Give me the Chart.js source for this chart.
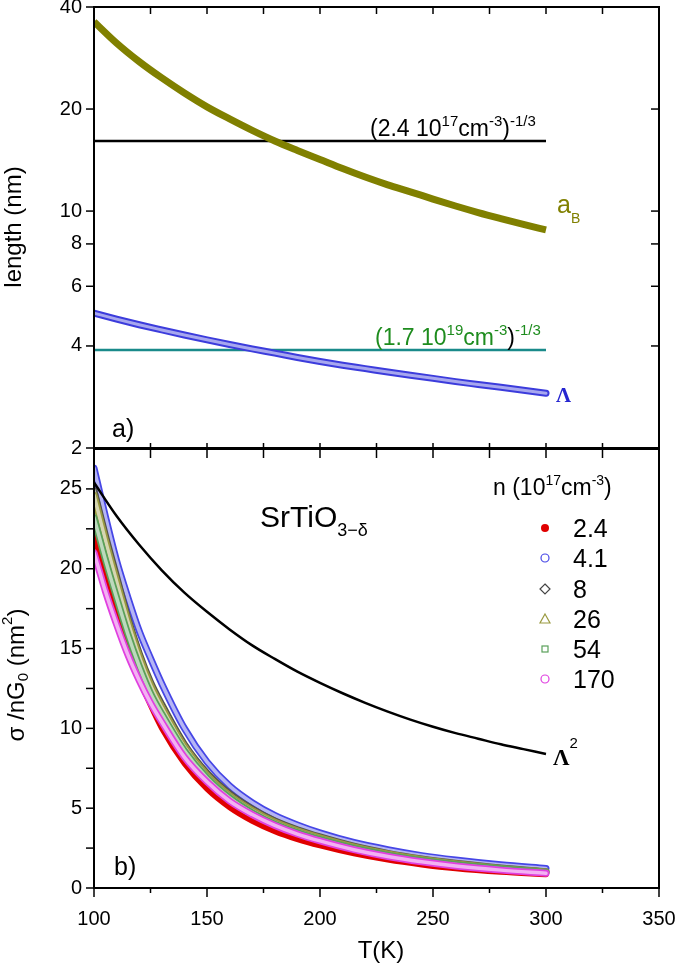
<!DOCTYPE html>
<html>
<head>
<meta charset="utf-8">
<script src="https://cdn.jsdelivr.net/npm/chart.js@4.4.1/dist/chart.umd.min.js"></script>
<style>
  html, body { margin: 0; padding: 0; background: #fff; }
  #wrap { position: relative; width: 675px; height: 964px; }
  #bot { position: absolute; left: 0; top: 440px; }
  #top { position: absolute; left: 0; top: 0; }
</style>
</head>
<body>
<div id="wrap">
  <canvas id="bot" width="675" height="524"></canvas>
  <canvas id="top" width="675" height="460"></canvas>
</div>
<script>
// ---- data ----
// panel a) lengths vs T
const temps = [100, 110, 120, 130, 140, 150, 160, 170, 180, 190, 200, 210, 220, 230, 240, 250, 260, 270, 280, 290, 300];
const bohrRadius = [36.2, 31.3, 27.6, 24.7, 22.3, 20.3, 18.7, 17.3, 16.1, 15.1, 14.2, 13.35, 12.6, 11.95, 11.4, 10.85, 10.35, 9.9, 9.5, 9.13, 8.8];
const lambda = [5.00, 4.80, 4.62, 4.46, 4.31, 4.17, 4.04, 3.92, 3.81, 3.70, 3.60, 3.51, 3.43, 3.35, 3.28, 3.21, 3.14, 3.08, 3.02, 2.96, 2.90];
const levelSpan = [100, 300];
const levelLow = 16.1;   // (2.4e17 cm-3)^-1/3
const levelHigh = 3.89;  // (1.7e19 cm-3)^-1/3
const lengthTicks = [2, 4, 6, 8, 10, 20, 40];
const lengthTicksRight = [4, 6, 8, 10, 20];

// panel b) sigma / n G0 vs T
const lambdaSq = [25.4, 23.3, 21.5, 19.9, 18.5, 17.3, 16.2, 15.2, 14.35, 13.55, 12.85, 12.2, 11.6, 11.05, 10.55, 10.1, 9.7, 9.35, 9.0, 8.7, 8.4];
const sigmaTemps = [100, 102.5, 105, 110, 115, 120, 125, 130, 140, 150, 160, 170, 180, 190, 200, 215, 230, 245, 260, 280, 300];
const densities = ['2.4', '4.1', '8', '26', '54', '170'];
const sigma2p4 = [22.2, 20.8, 19.5, 17.1, 15.0, 13.1, 11.45, 10.0, 7.8, 6.2, 5.05, 4.2, 3.55, 3.05, 2.65, 2.15, 1.76, 1.46, 1.22, 1.0, 0.85];
const sigma4p1 = [26.3, 24.8, 23.3, 20.5, 18.2, 16.1, 14.4, 12.8, 10.0, 7.9, 6.4, 5.35, 4.55, 3.95, 3.45, 2.85, 2.4, 2.03, 1.75, 1.45, 1.22];
const sigma8 = [24.9, 23.5, 22.1, 19.5, 16.9, 14.7, 12.9, 11.5, 9.0, 7.2, 5.9, 4.95, 4.2, 3.65, 3.2, 2.62, 2.17, 1.82, 1.55, 1.25, 1.02];
const sigma26 = [24.6, 23.2, 21.8, 19.2, 16.7, 14.5, 12.7, 11.3, 8.85, 7.05, 5.78, 4.85, 4.12, 3.58, 3.14, 2.57, 2.13, 1.79, 1.52, 1.23, 1.0];
const sigma54 = [23.2, 21.9, 20.6, 18.2, 15.9, 13.9, 12.2, 10.9, 8.6, 6.9, 5.65, 4.72, 4.0, 3.47, 3.04, 2.49, 2.06, 1.73, 1.47, 1.2, 0.97];
const sigma170 = [21.0, 19.8, 18.6, 16.5, 14.6, 13.0, 11.6, 10.4, 8.2, 6.65, 5.45, 4.6, 3.92, 3.38, 2.95, 2.4, 1.97, 1.64, 1.38, 1.12, 0.92];
const sigmaTicks = [0, 5, 10, 15, 20, 25];
const sigmaMinor = [2.5, 7.5, 12.5, 17.5, 22.5];
const tempTicks = [100, 150, 200, 250, 300, 350];
const tempMinor = [125, 175, 225, 275, 325];

const FONT = "'Liberation Sans', Arial, sans-serif";
const SERIF = "'Liberation Serif', 'Times New Roman', serif";

function pts(xs, ys) {
  return xs.map((x, i) => ({ x: x, y: ys[i] }));
}

// text with super/subscripts, drawn left to right
function rich(ctx, x, y, parts, o) {
  let cx = x;
  parts.forEach(p => {
    const size = p.k ? o.small : o.size;
    ctx.font = (p.w || o.weight || '') + ' ' + size + 'px ' + (p.f || o.family);
    ctx.fillStyle = p.c || o.color;
    let dy = 0;
    if (p.k === 'sup') dy = -o.supDy;
    if (p.k === 'sub') dy = o.subDy;
    ctx.fillText(p.t, cx, y + dy);
    cx += ctx.measureText(p.t).width;
  });
  return cx - x;
}

function richWidth(ctx, parts, o) {
  let w = 0;
  parts.forEach(p => {
    const size = p.k ? o.small : o.size;
    ctx.font = (p.w || o.weight || '') + ' ' + size + 'px ' + (p.f || o.family);
    w += ctx.measureText(p.t).width;
  });
  return w;
}

function richRotated(ctx, cx, cy, parts, o) {
  ctx.save();
  ctx.translate(cx, cy);
  ctx.rotate(-Math.PI / 2);
  ctx.textBaseline = 'middle';
  const w = richWidth(ctx, parts, o);
  rich(ctx, -w / 2, 0, parts, o);
  ctx.restore();
}

// frame plus Origin-style ticks
function frameTicks(spec) {
  return {
    id: 'frameTicks',
    afterDraw(chart) {
      const { ctx, chartArea: a, scales } = chart;
      ctx.save();
      ctx.strokeStyle = '#000';
      ctx.lineWidth = 1.5;
      spec.forEach(s => {
        s.values.forEach(v => {
          ctx.beginPath();
          if (s.side === 'left' || s.side === 'right') {
            const py = scales.y.getPixelForValue(v);
            const px = s.side === 'left' ? a.left : a.right;
            ctx.moveTo(px, py);
            ctx.lineTo(px + s.len, py);
          } else {
            const px = scales.x.getPixelForValue(v);
            const py = s.side === 'top' ? a.top : a.bottom;
            ctx.moveTo(px, py);
            ctx.lineTo(px, py + s.len);
          }
          ctx.stroke();
        });
      });
      ctx.lineWidth = 2;
      ctx.strokeRect(a.left, a.top, a.right - a.left, a.bottom - a.top);
      ctx.restore();
    }
  };
}

const innerTemps = [125, 150, 175, 200, 225, 250, 275, 300, 325];

// ---------- panel a ----------
const topLabels = {
  id: 'topLabels',
  afterDraw(chart) {
    const ctx = chart.ctx;
    ctx.save();
    ctx.textBaseline = 'alphabetic';
    const base = { size: 23, small: 15, family: FONT, color: '#000', supDy: 10, subDy: 10 };
    rich(ctx, 370, 136, [
      { t: '(2.4 10' }, { t: '17', k: 'sup' }, { t: 'cm' }, { t: '-3', k: 'sup' }, { t: ')' }, { t: '-1/3', k: 'sup' }
    ], base);
    const green = '#1e8c1e';
    rich(ctx, 375, 345, [
      { t: '(1.7 10', c: green }, { t: '19', k: 'sup', c: green }, { t: 'cm', c: green },
      { t: '-3', k: 'sup', c: green }, { t: ')' }, { t: '-1/3', k: 'sup', c: green }
    ], base);
    rich(ctx, 557, 213, [{ t: 'a' }, { t: 'B', k: 'sub' }],
      { size: 25, small: 14, family: FONT, color: '#808000', supDy: 0, subDy: 10 });
    rich(ctx, 556, 402, [{ t: '\u039B' }],
      { size: 21, small: 14, family: SERIF, weight: 'bold', color: '#2626d0', supDy: 0, subDy: 0 });
    rich(ctx, 112, 437, [{ t: 'a)' }], { size: 25, small: 15, family: FONT, color: '#000', supDy: 0, subDy: 0 });
    richRotated(ctx, 14, 227, [{ t: 'length (nm)' }], { size: 24, small: 15, family: FONT, color: '#000', supDy: 0, subDy: 0 });
    ctx.restore();
  }
};

new Chart(document.getElementById('top').getContext('2d'), {
  type: 'line',
  data: {
    datasets: [
      { data: pts(levelSpan, [levelLow, levelLow]), borderColor: '#000', borderWidth: 2.5, pointRadius: 0, order: 6 },
      { data: pts(levelSpan, [levelHigh, levelHigh]), borderColor: '#1a8a8a', borderWidth: 2.5, pointRadius: 0, order: 5 },
      { data: pts(temps, lambda), borderColor: '#3c3cdc', borderWidth: 7, pointRadius: 0, borderCapStyle: 'round',
        cubicInterpolationMode: 'monotone', order: 3 },
      { data: pts(temps, lambda), borderColor: 'rgba(255,255,255,0.55)', borderWidth: 3, pointRadius: 0, borderCapStyle: 'round',
        cubicInterpolationMode: 'monotone', order: 2 },
      { data: pts(temps, bohrRadius), borderColor: '#808000', borderWidth: 7, pointRadius: 0,
        cubicInterpolationMode: 'monotone', order: 1 }
    ]
  },
  options: {
    responsive: false,
    animation: false,
    layout: { padding: { top: 7, right: 16, bottom: 12, left: 0 } },
    plugins: { legend: { display: false }, tooltip: { enabled: false } },
    scales: {
      x: { type: 'linear', min: 100, max: 350, display: false },
      y: {
        type: 'logarithmic', min: 2, max: 40,
        grid: { display: false, drawTicks: false },
        border: { display: false },
        afterBuildTicks: s => { s.ticks = lengthTicks.map(v => ({ value: v })); },
        afterFit: s => { s.width = 94; s.paddingTop = 0; s.paddingBottom = 0; },
        ticks: { padding: 12, color: '#000', font: { family: FONT, size: 20 }, callback: v => String(v) }
      }
    }
  },
  plugins: [frameTicks([
    { side: 'left', values: lengthTicks, len: -8 },
    { side: 'right', values: lengthTicksRight, len: -8 },
    { side: 'top', values: innerTemps, len: 7 },
    { side: 'bottom', values: innerTemps, len: -5 }
  ]), topLabels]
});

// ---------- panel b ----------
const markerColors = ['#e00000', '#4646e6', '#444444', '#9a9a40', '#5aa05a', '#e040e0'];

const botLabels = {
  id: 'botLabels',
  afterDraw(chart) {
    const ctx = chart.ctx;
    ctx.save();
    ctx.textBaseline = 'alphabetic';
    rich(ctx, 260, 87, [{ t: 'SrTiO' }, { t: '3\u2212\u03B4', k: 'sub' }],
      { size: 30, small: 18, family: FONT, color: '#000', supDy: 0, subDy: 9 });
    rich(ctx, 493, 55, [{ t: 'n (10' }, { t: '17', k: 'sup' }, { t: 'cm' }, { t: '-3', k: 'sup' }, { t: ')' }],
      { size: 23, small: 14, family: FONT, color: '#000', supDy: 10, subDy: 0 });
    const rows = [88, 118, 149, 179, 209, 239];
    densities.forEach((d, i) => {
      const y = rows[i], x = 545;
      ctx.lineWidth = 1.2;
      ctx.strokeStyle = markerColors[i];
      ctx.fillStyle = markerColors[i];
      ctx.beginPath();
      if (i === 0) { ctx.arc(x, y, 4, 0, Math.PI * 2); ctx.fill(); }
      else if (i === 2) { ctx.moveTo(x, y - 5); ctx.lineTo(x + 5, y); ctx.lineTo(x, y + 5); ctx.lineTo(x - 5, y); ctx.closePath(); ctx.stroke(); }
      else if (i === 3) { ctx.moveTo(x, y - 5); ctx.lineTo(x + 5, y + 4); ctx.lineTo(x - 5, y + 4); ctx.closePath(); ctx.stroke(); }
      else if (i === 4) { ctx.strokeRect(x - 3, y - 3, 6, 6); }
      else { ctx.arc(x, y, 4, 0, Math.PI * 2); ctx.stroke(); }
      rich(ctx, 573, y + 9, [{ t: d }], { size: 25, small: 14, family: FONT, color: '#000', supDy: 0, subDy: 0 });
    });
    rich(ctx, 553, 325, [{ t: '\u039B' }, { t: '2', k: 'sup', f: FONT, w: 'normal' }],
      { size: 23, small: 15, family: SERIF, weight: 'bold', color: '#000', supDy: 17, subDy: 0 });
    rich(ctx, 114, 435, [{ t: 'b)' }], { size: 25, small: 15, family: FONT, color: '#000', supDy: 0, subDy: 0 });
    richRotated(ctx, 17, 235, [{ t: '\u03C3 /nG' }, { t: '0', k: 'sub' }, { t: ' (nm' }, { t: '2', k: 'sup' }, { t: ')' }],
      { size: 24, small: 15, family: FONT, color: '#000', supDy: 9, subDy: 7 });
    ctx.textBaseline = 'middle';
    ctx.textAlign = 'center';
    ctx.font = '24px ' + FONT;
    ctx.fillStyle = '#000';
    ctx.fillText('T(K)', 381, 511);
    ctx.restore();
  }
};

function tube(values, color, order) {
  return [
    { data: pts(sigmaTemps, values), borderColor: color, borderWidth: 7, pointRadius: 0, borderCapStyle: 'round',
      cubicInterpolationMode: 'monotone', order: order },
    { data: pts(sigmaTemps, values), borderColor: 'rgba(255,255,255,0.6)', borderWidth: 3.5, pointRadius: 0, borderCapStyle: 'round',
      cubicInterpolationMode: 'monotone', order: order - 1 }
  ];
}

new Chart(document.getElementById('bot').getContext('2d'), {
  type: 'line',
  data: {
    datasets: [
      { data: pts(sigmaTemps, sigma2p4), borderColor: markerColors[0], borderWidth: 5.5, pointRadius: 0, borderCapStyle: 'round',
        cubicInterpolationMode: 'monotone', order: 20 },
      ...tube(sigma4p1, markerColors[1], 18),
      ...tube(sigma8, '#55554a', 16),
      ...tube(sigma26, markerColors[3], 14),
      ...tube(sigma54, markerColors[4], 12),
      ...tube(sigma170, markerColors[5], 10),
      { data: pts(temps, lambdaSq), borderColor: '#000', borderWidth: 2.5, pointRadius: 0,
        cubicInterpolationMode: 'monotone', order: 1 }
    ]
  },
  options: {
    responsive: false,
    animation: false,
    layout: { padding: { top: 9, right: 16, bottom: 0, left: 0 } },
    plugins: { legend: { display: false }, tooltip: { enabled: false } },
    scales: {
      x: {
        type: 'linear', min: 100, max: 350,
        grid: { display: false, drawTicks: false },
        border: { display: false },
        afterBuildTicks: s => { s.ticks = tempTicks.map(v => ({ value: v })); },
        afterFit: s => { s.height = 76; s.paddingLeft = 0; s.paddingRight = 0; },
        ticks: { padding: 19, color: '#000', maxRotation: 0, font: { family: FONT, size: 20 }, callback: v => String(v) }
      },
      y: {
        type: 'linear', min: 0, max: 27.5,
        grid: { display: false, drawTicks: false },
        border: { display: false },
        afterBuildTicks: s => { s.ticks = sigmaTicks.map(v => ({ value: v })); },
        afterFit: s => { s.width = 94; s.paddingTop = 0; s.paddingBottom = 0; },
        ticks: { padding: 12, color: '#000', font: { family: FONT, size: 20 }, callback: v => String(v) }
      }
    }
  },
  plugins: [frameTicks([
    { side: 'left', values: sigmaTicks, len: -8 },
    { side: 'left', values: sigmaMinor, len: -8 },
    { side: 'top', values: innerTemps, len: 9 },
    { side: 'bottom', values: tempTicks, len: 9 },
    { side: 'bottom', values: tempMinor, len: 5 }
  ]), botLabels]
});
</script>
</body>
</html>
